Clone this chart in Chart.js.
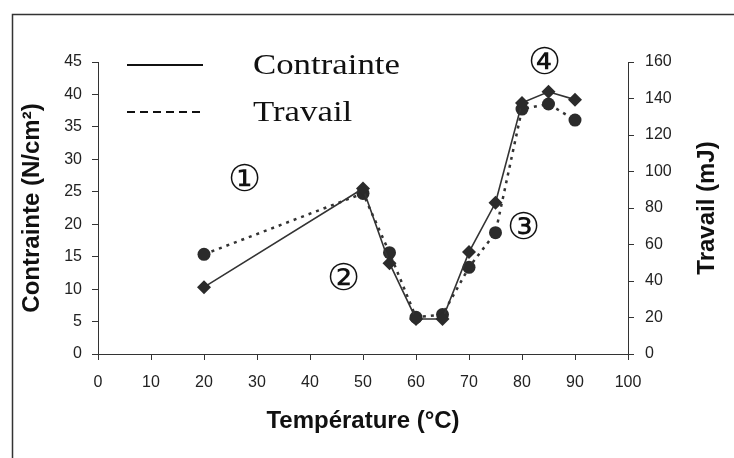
<!DOCTYPE html>
<html lang="fr">
<head>
<meta charset="utf-8">
<title>Contrainte et travail en fonction de la température</title>
<script src="https://cdn.jsdelivr.net/npm/chart.js@4.4.1/dist/chart.umd.min.js"></script>
<style>
  html, body { margin: 0; padding: 0; background: #fff; }
  canvas { display: block; }
</style>
</head>
<body>
<canvas id="myChart" width="734" height="458"></canvas>
<script>
'use strict'

// Data
const temperatures = [20, 50, 55, 60, 65, 70, 75, 80, 85, 90]
const contrainte = [10.3, 25.5, 14.0, 5.4, 5.4, 15.7, 23.3, 38.7, 40.4, 39.2]
const travail = [54.6, 88, 55.5, 20.1, 21.6, 47.5, 66.5, 134.2, 137, 128.2]

const xTicks = [0, 10, 20, 30, 40, 50, 60, 70, 80, 90, 100]
const yLeftMax = 45
const yRightMax = 160

// circled phase markers, placed in data units (temperature, contrainte)
const phaseLabels = ['①', '②', '③', '④']
const phaseX = [27.7, 46.4, 80.2, 84.3]
const phaseY = [26.6, 11.4, 19.2, 44.7]

const ink = '#2b2b2b'

Chart.defaults.font.family = '"Liberation Sans", Arial, sans-serif'
Chart.defaults.color = '#222'

const decor = {
  id: 'decor',
  beforeDraw(chart) {
    const ctx = chart.ctx
    ctx.save()
    ctx.fillStyle = '#fff'
    ctx.fillRect(0, 0, chart.width, chart.height)
    // outer frame (only left and top edges fall inside the picture)
    ctx.strokeStyle = '#333'
    ctx.lineWidth = 1.5
    ctx.strokeRect(12.5, 14.5, chart.width + 40, chart.height + 40)
    ctx.restore()
  },
  afterDraw(chart) {
    const ctx = chart.ctx
    const xs = chart.scales.x
    const ys = chart.scales.y
    const area = chart.chartArea
    ctx.save()

    // legend (text is a bit stretched sideways in the original)
    const sets = chart.data.datasets
    const legendY = [65, 112]
    sets.forEach((ds, i) => {
      ctx.beginPath()
      ctx.strokeStyle = '#111'
      ctx.lineWidth = 2
      ctx.setLineDash(i === 0 ? [] : [8, 5])
      ctx.moveTo(127, legendY[i])
      ctx.lineTo(203, legendY[i])
      ctx.stroke()
      ctx.setLineDash([])
      ctx.save()
      ctx.fillStyle = '#111'
      ctx.font = '29px "Liberation Serif", "Times New Roman", serif'
      ctx.textAlign = 'left'
      ctx.textBaseline = 'middle'
      ctx.translate(253, legendY[i] + 1)
      ctx.scale(1.2, 1)
      ctx.fillText(ds.label, 0, 0)
      ctx.restore()
    })

    // circled numbers
    ctx.fillStyle = '#111'
    ctx.font = '37px "Liberation Serif", "DejaVu Serif", serif'
    ctx.textAlign = 'center'
    ctx.textBaseline = 'middle'
    phaseLabels.forEach((t, i) => {
      ctx.fillText(t, xs.getPixelForValue(phaseX[i]), ys.getPixelForValue(phaseY[i]))
    })

    // right axis title, reading bottom to top
    ctx.font = 'bold 24px "Liberation Sans", Arial, sans-serif'
    ctx.translate(707, (area.top + area.bottom) / 2)
    ctx.rotate(-Math.PI / 2)
    ctx.fillText('Travail (mJ)', 0, 0)
    ctx.restore()
  }
}

const ctx = document.getElementById('myChart')
// eslint-disable-next-line no-unused-vars
const myChart = new Chart(ctx, {
  type: 'line',
  data: {
    datasets: [{
      label: 'Contrainte',
      data: temperatures.map((t, i) => ({ x: t, y: contrainte[i] })),
      yAxisID: 'y',
      borderColor: '#333',
      borderWidth: 1.6,
      tension: 0,
      pointStyle: 'rectRot',
      pointRadius: 7,
      pointBackgroundColor: ink,
      pointBorderColor: ink,
      pointBorderWidth: 0
    }, {
      label: 'Travail',
      data: temperatures.map((t, i) => ({ x: t, y: travail[i] })),
      yAxisID: 'y1',
      borderColor: '#333',
      borderWidth: 2.5,
      borderDash: [3, 5],
      tension: 0,
      pointStyle: 'circle',
      pointRadius: 6.5,
      pointBackgroundColor: ink,
      pointBorderColor: ink,
      pointBorderWidth: 0
    }]
  },
  options: {
    responsive: false,
    animation: false,
    devicePixelRatio: 1,
    layout: { padding: { top: 62, left: 0, right: 0, bottom: 0 } },
    plugins: {
      legend: { display: false },
      tooltip: { enabled: false }
    },
    scales: {
      x: {
        type: 'linear',
        min: 0,
        max: 100,
        afterBuildTicks: s => { s.ticks = xTicks.map(v => ({ value: v })) },
        afterFit: s => { s.height = 104 },
        grid: { drawOnChartArea: false, drawTicks: true, tickLength: 6, color: '#333' },
        border: { display: true, color: '#333', width: 1 },
        ticks: { padding: 13, font: { size: 16 }, color: '#222' },
        title: {
          display: true,
          text: 'Température (°C)',
          font: { size: 24, weight: 'bold' },
          color: '#111',
          padding: { top: 0, bottom: 22 }
        }
      },
      y: {
        position: 'left',
        min: 0,
        max: yLeftMax,
        afterFit: s => { s.width = 98 },
        grid: { drawOnChartArea: false, drawTicks: true, tickLength: 6, color: '#333' },
        border: { display: true, color: '#333', width: 1 },
        ticks: { stepSize: 5, padding: 10, font: { size: 16 }, color: '#222' },
        title: {
          display: true,
          text: 'Contrainte (N/cm²)',
          font: { size: 24, weight: 'bold' },
          color: '#111',
          padding: { top: 18, bottom: 0 }
        }
      },
      y1: {
        position: 'right',
        min: 0,
        max: yRightMax,
        afterFit: s => { s.width = 106 },
        grid: { drawOnChartArea: false, drawTicks: true, tickLength: 6, color: '#333' },
        border: { display: true, color: '#333', width: 1 },
        ticks: { stepSize: 20, padding: 11, font: { size: 16 }, color: '#222' }
      }
    }
  },
  plugins: [decor]
})
</script>
</body>
</html>
